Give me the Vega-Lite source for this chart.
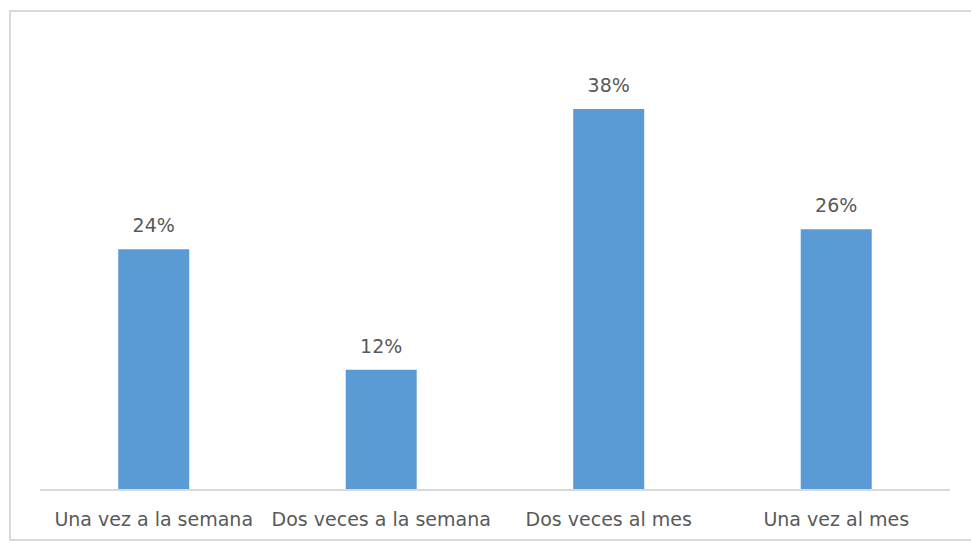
{
  "$schema": "https://vega.github.io/schema/vega-lite/v6.json",
  "width": 965,
  "height": 529,
  "autosize": "none",
  "padding": {"left": 10, "top": 11, "right": 0, "bottom": 3},
  "background": "white",
  "config": {
    "view": {"stroke": "#d9d9d9", "strokeWidth": 2},
    "font": "DejaVu Sans"
  },
  "data": {
    "values": [
      {"categoria": "Una vez a la semana", "valor": 0.24},
      {"categoria": "Dos veces a la semana", "valor": 0.12},
      {"categoria": "Dos veces al mes", "valor": 0.38},
      {"categoria": "Una vez al mes", "valor": 0.26}
    ]
  },
  "encoding": {
    "x": {
      "field": "categoria",
      "type": "nominal",
      "sort": null,
      "scale": {"paddingInner": 0, "paddingOuter": 0.1209, "align": 0.545},
      "axis": {
        "title": null,
        "labelAngle": 0,
        "domain": false,
        "ticks": false,
        "offset": -50,
        "labelBaseline": "alphabetic",
        "labelPadding": 35,
        "labelLimit": 0,
        "labelFontSize": 19,
        "labelColor": "#595959",
        "labelFont": "DejaVu Sans"
      }
    }
  },
  "layer": [
    {
      "mark": {"type": "bar", "size": 71, "color": "#5b9bd5"},
      "encoding": {
        "y": {
          "field": "valor",
          "type": "quantitative",
          "scale": {"domain": [-0.04985, 0.4776], "nice": false, "zero": false},
          "axis": null
        },
        "y2": {"datum": 0}
      }
    },
    {
      "mark": {"type": "text", "baseline": "alphabetic", "dy": -17, "fontSize": 19, "color": "#595959", "font": "DejaVu Sans"},
      "encoding": {
        "y": {"field": "valor", "type": "quantitative"},
        "text": {"field": "valor", "type": "quantitative", "format": ".0%"}
      }
    },
    {
      "data": {"values": [{"inicio": "Una vez a la semana", "fin": "Una vez al mes", "base": 0}]},
      "mark": {"type": "rule", "color": "#d9d9d9", "strokeWidth": 2},
      "encoding": {
        "x": {"field": "inicio", "type": "nominal", "bandPosition": 0},
        "x2": {"field": "fin", "bandPosition": 1},
        "y": {"field": "base", "type": "quantitative"}
      }
    }
  ]
}
